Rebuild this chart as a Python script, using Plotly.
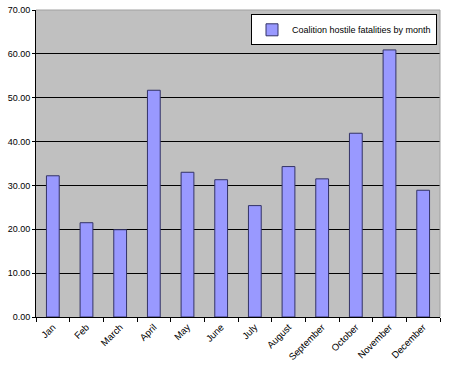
import plotly.graph_objects as go

months = ["Jan", "Feb", "March", "April", "May", "June", "July", "August",
          "September", "October", "November", "December"]
fatalities = [32.2, 21.5, 19.9, 51.7, 33.0, 31.3, 25.4, 34.3, 31.5, 41.9, 60.9, 28.9]
series_name = "Coalition hostile fatalities by month"
y_ticks = [0, 10, 20, 30, 40, 50, 60, 70]

fig = go.Figure()
fig.add_trace(go.Bar(
    x=months, y=fatalities, name=series_name,
    marker=dict(color="#9999FF", line=dict(color="#333366", width=1)),
    width=0.38,
))

font = dict(family="Liberation Sans, Arial, sans-serif", size=9, color="#000000")
fig.update_layout(
    width=455, height=368,
    margin=dict(l=36, r=15, t=10, b=51, autoexpand=False),
    paper_bgcolor="white",
    plot_bgcolor="#C0C0C0",
    font=font,
    showlegend=True,
    legend=dict(x=0.9926, y=0.986, xanchor="right", yanchor="top",
                bgcolor="white", bordercolor="#000000", borderwidth=1,
                font=dict(family="Liberation Sans, Arial, sans-serif", size=9, color="#000000"),
                itemwidth=30, tracegroupgap=0),
)
fig.update_xaxes(
    tickangle=-45, ticks="outside", tickson="boundaries", ticklen=4,
    tickcolor="#000000", showline=True, linecolor="#000000", linewidth=1,
    showgrid=False, mirror=False, automargin=False, ticklabeloverflow="allow",
    tickfont=dict(size=9.5, color="#000000"),
)
fig.update_yaxes(
    range=[0, 70], tickvals=y_ticks, ticktext=[f"{v:.2f}" for v in y_ticks],
    ticks="outside", ticklen=3, tickcolor="#000000",
    showline=True, linecolor="#000000", linewidth=1,
    showgrid=True, gridcolor="#000000", gridwidth=1, zeroline=False,
    automargin=False, ticklabeloverflow="allow",
    tickfont=dict(size=9, color="#000000"),
)
fig.add_shape(type="line", xref="paper", yref="paper", x0=0, y0=1, x1=1, y1=1,
              line=dict(color="#A0A0A0", width=1), layer="above")
fig.add_shape(type="line", xref="paper", yref="paper", x0=1, y0=0, x1=1, y1=1,
              line=dict(color="#A0A0A0", width=1), layer="above")
fig.write_html("out.html", config={"displayModeBar": False},
               post_script="document.body.style.margin='0';")
